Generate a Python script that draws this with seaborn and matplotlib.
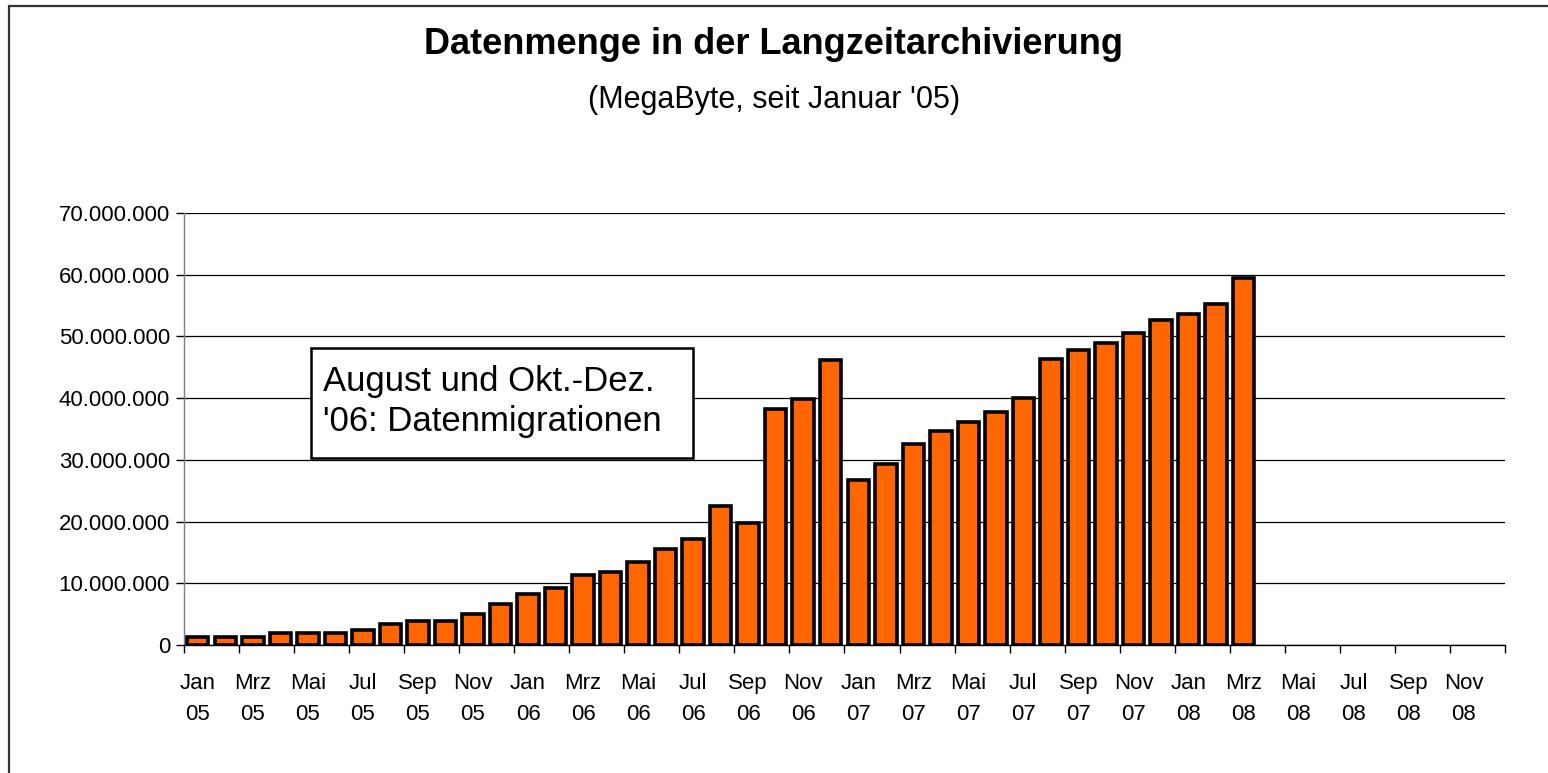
import numpy as np
import pandas as pd
import seaborn as sns
import matplotlib.pyplot as plt
from matplotlib.patches import Rectangle
from matplotlib.ticker import FuncFormatter

# month names (German) and years
month_names = ['Jan', 'Feb', 'Mrz', 'Apr', 'Mai', 'Jun',
               'Jul', 'Aug', 'Sep', 'Okt', 'Nov', 'Dez']
years = ['05', '06', '07', '08']

# data volume in million MegaByte, Jan 05 - Mrz 08 (rest of 08 empty)
volume_mio = [1.3, 1.3, 1.3, 1.9, 1.9, 1.9, 2.4, 3.4, 3.9, 3.9, 5.0, 6.7,
              8.3, 9.3, 11.4, 11.9, 13.5, 15.6, 17.2, 22.5, 19.8, 38.2, 39.8, 46.2,
              26.7, 29.3, 32.5, 34.6, 36.2, 37.8, 40.0, 46.3, 47.8, 48.9, 50.5, 52.6,
              53.7, 55.2, 59.4]

months = [f'{m} {y}' for y in years for m in month_names]
values = [v * 1e6 for v in volume_mio] + [np.nan] * (len(months) - len(volume_mio))
df = pd.DataFrame({'month': months, 'megabyte': values})

sns.set_style('white')
plt.rcParams['font.family'] = ['Liberation Sans', 'DejaVu Sans']
plt.rcParams['text.color'] = 'black'
plt.rcParams['xtick.color'] = 'black'
plt.rcParams['ytick.color'] = 'black'

fig = plt.figure(figsize=(15.48, 7.73), dpi=100)
ax = fig.add_axes([184 / 1548, 128 / 773, 1321 / 1548, 432 / 773])

sns.barplot(data=df, x='month', y='megabyte', order=months, ax=ax,
            color='#FF6600', saturation=1, width=0.78,
            edgecolor='black', linewidth=2.6, zorder=3)

ax.set_xlim(-0.5, len(months) - 0.5)
ax.set_ylim(0, 70e6)
ax.set_yticks(np.arange(0, 70e6 + 1, 10e6))
ax.yaxis.set_major_formatter(FuncFormatter(lambda v, p: f'{int(v):,}'.replace(',', '.')))
ax.grid(axis='y', color='black', linewidth=0.9, zorder=0)
ax.set_xlabel('')
ax.set_ylabel('')

# labels on every second month, tick marks on every second boundary
label_pos = np.arange(0, len(months), 2)
ax.set_xticks(label_pos)
ax.set_xticklabels([months[i].replace(' ', '\n') for i in label_pos],
                   linespacing=1.65)
ax.set_xticks(np.arange(-0.5, len(months), 2), minor=True)
ax.tick_params(axis='x', which='major', length=0, pad=20, labelsize=16)
ax.tick_params(axis='x', which='minor', length=6, width=1, color='black',
               direction='out', bottom=True)
ax.tick_params(axis='y', length=6, width=1, color='black', direction='out',
               left=True, pad=4, labelsize=16)

for side in ['top', 'right']:
    ax.spines[side].set_visible(False)
ax.spines['left'].set_color('#808080')
ax.spines['bottom'].set_color('black')
ax.spines['left'].set_linewidth(1)
ax.spines['bottom'].set_linewidth(1)

fig.text(0.5, 1 - 44 / 773, 'Datenmenge in der Langzeitarchivierung',
         ha='center', va='center', fontsize=26, fontweight='bold')
fig.text(0.5, 1 - 100 / 773, "(MegaByte, seit Januar '05)",
         ha='center', va='center', fontsize=22)

# annotation box
fig.patches.append(Rectangle((311 / 1548, 1 - 458 / 773), 382 / 1548, 110 / 773,
                             transform=fig.transFigure, fill=True,
                             facecolor='white', edgecolor='black', linewidth=1.8,
                             zorder=5))
fig.text(323 / 1548, 1 - 382 / 773, 'August und Okt.-Dez.', ha='left', va='center',
         fontsize=25, zorder=6)
fig.text(323 / 1548, 1 - 421 / 773, "'06: Datenmigrationen", ha='left', va='center',
         fontsize=25, zorder=6)

# outer chart frame (cut at right and bottom)
fig.patches.append(Rectangle((8.5 / 1548, -0.1), 1.2, 1.1 - 6 / 773,
                             transform=fig.transFigure, fill=False,
                             edgecolor='#333333', linewidth=1.6))

fig.savefig('out.png', dpi=100)
